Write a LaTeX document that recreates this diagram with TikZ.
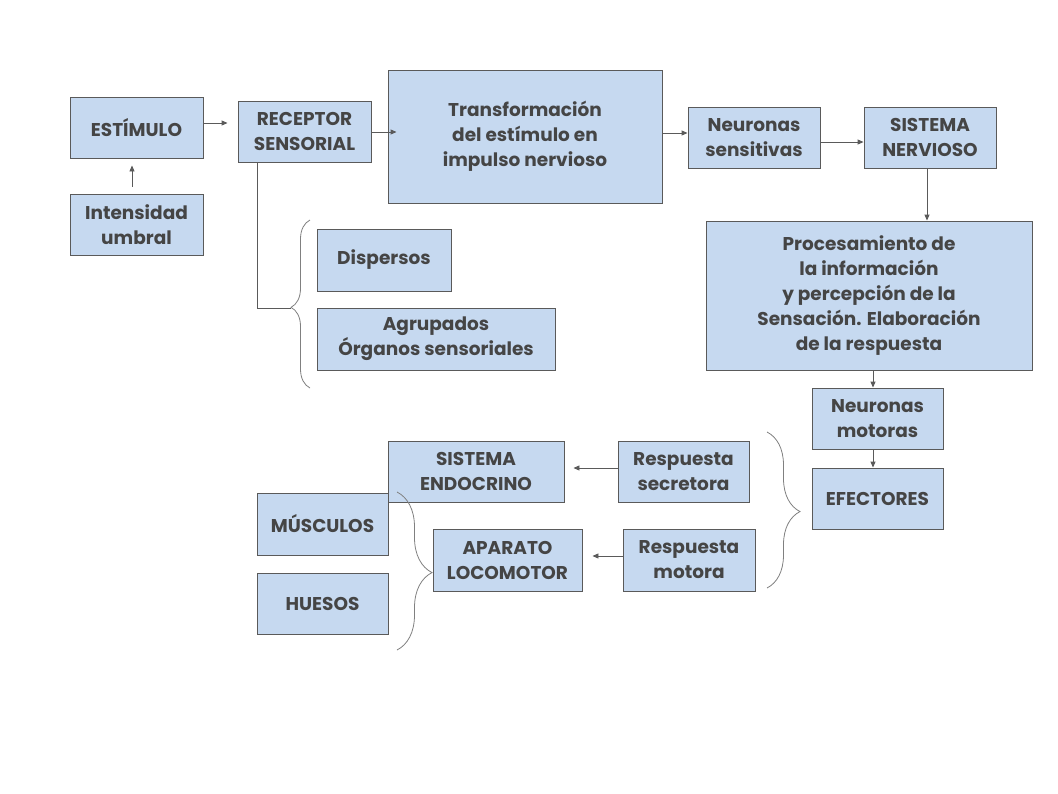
\documentclass[tikz,border=0pt]{standalone}
\usepackage{fontspec}
\setmainfont{Poppins}
\usetikzlibrary{arrows.meta,decorations.pathreplacing}
\definecolor{boxfill}{HTML}{C6D9F0}
\definecolor{boxline}{HTML}{5A5A5A}
\definecolor{txt}{HTML}{454545}
\begin{document}
\begin{tikzpicture}[x=1pt,y=-1pt,
  box/.style={draw=boxline, fill=boxfill, line width=0.9pt, align=center, inner sep=0pt,
    text=txt, font=\fontsize{18.5}{25}\selectfont\bfseries},
  arr/.style={draw=boxline, line width=0.9pt, -{Triangle[length=6pt,width=5pt]}},
  brc/.style={draw=gray, line width=0.8pt, decorate}]
\fill[white] (0,0) rectangle (1058,793);
\useasboundingbox (0,0) rectangle (1058,793);
% boxes
\node[box, minimum width=133pt, minimum height=61pt] (est) at (136.5,127.5) {ESTÍMULO};
\node[box, minimum width=133pt, minimum height=61pt] (int) at (136.5,224.5) {Intensidad\\umbral};
\node[box, minimum width=133pt, minimum height=61pt] (rec) at (304.5,131.5) {RECEPTOR\\SENSORIAL};
\node[box, minimum width=274pt, minimum height=133pt] (tra) at (525,136.5) {Transformación\\del estímulo en\\impulso nervioso};
\node[box, minimum width=134pt, minimum height=62pt] (dis) at (384,260) {Dispersos};
\node[box, minimum width=238pt, minimum height=62pt] (agr) at (436,339) {Agrupados\\Órganos sensoriales};
\node[box, minimum width=132pt, minimum height=61pt] (nse) at (754,137.5) {Neuronas\\sensitivas};
\node[box, minimum width=132pt, minimum height=61pt] (snv) at (930,137.5) {SISTEMA\\NERVIOSO};
\node[box, minimum width=326pt, minimum height=149pt] (pro) at (869,295.5) {Procesamiento de\\la información\\y percepción de la\\Sensación. Elaboración\\de la respuesta};
\node[box, minimum width=131pt, minimum height=61pt] (nmo) at (877.5,418.5) {Neuronas\\motoras};
\node[box, minimum width=131pt, minimum height=61pt] (efe) at (877.5,498.5) {EFECTORES};
\node[box, minimum width=131pt, minimum height=61pt] (rse) at (683.5,471.5) {Respuesta\\secretora};
\node[box, minimum width=176pt, minimum height=61pt] (end) at (476,471.5) {SISTEMA\\ENDOCRINO};
\node[box, minimum width=132pt, minimum height=62pt] (rmo) at (689,560) {Respuesta\\motora};
\node[box, minimum width=149pt, minimum height=62pt] (loc) at (507.5,560) {APARATO\\LOCOMOTOR};
\node[box, minimum width=131pt, minimum height=62pt] (mus) at (322.5,524) {MÚSCULOS};
\node[box, minimum width=131pt, minimum height=61pt] (hue) at (322.5,603.5) {HUESOS};
% arrows
\draw[arr, shorten <=7pt, shorten >=7pt] (int.north -| 132,0) -- (est.south -| 132,0);
\draw[arr, shorten >=10pt] (est.east |- 0,123) -- (rec.west |- 0,123);
\draw[arr, shorten >=-9pt] (rec.east |- 0,132) -- (tra.west |- 0,132);
\draw[arr] (tra.east |- 0,133) -- (nse.west |- 0,133);
\draw[arr] (nse.east |- 0,142) -- (snv.west |- 0,142);
\draw[arr] (snv.south -| 927,0) -- (pro.north -| 927,0);
\draw[arr] (pro.south -| 873,0) -- (nmo.north -| 873,0);
\draw[arr] (nmo.south -| 873,0) -- (efe.north -| 873,0);
\draw[arr, shorten >=9pt] (rse.west |- 0,468) -- (end.east |- 0,468);
\draw[arr, shorten >=10pt] (rmo.west |- 0,556) -- (loc.east |- 0,556);
% braces
\coordinate (lb) at (291,308);
\draw[brc, decoration={brace, amplitude=19pt, aspect=0.48}] (310,388) -- (310,220);
\draw[boxline, line width=0.9pt] (rec.south -| 257,0) |- (lb);
\draw[brc, decoration={brace, amplitude=33pt, aspect=0.51}] (767,432) -- (767,588);
\draw[brc, decoration={brace, amplitude=35pt, aspect=0.51}] (397,492) -- (397,650);
\end{tikzpicture}
\end{document}
